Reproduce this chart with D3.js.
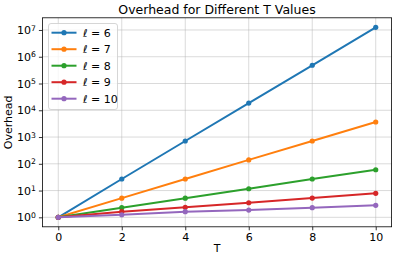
<!DOCTYPE html>
<html><head><meta charset="utf-8">
<script src="https://cdn.jsdelivr.net/npm/d3@7"></script>
<style>body{margin:0;background:#fff;} svg{display:block;font-family:"DejaVu Sans",sans-serif;}</style>
</head><body>
<svg id="c" width="396" height="260"></svg>
<script>
const T = [0, 2, 4, 6, 8, 10];
const seriesNames = ["6", "7", "8", "9", "10"];
const l6 = [1, 27, 710, 18600, 480000, 12600000];
const l7 = [1, 5.2, 27, 140, 710, 3650];
const l8 = [1, 2.3, 5.2, 11.7, 27, 60];
const l9 = [1, 1.62, 2.36, 3.5, 5.25, 7.9];
const l10 = [1, 1.25, 1.62, 1.87, 2.29, 2.8];
const xTicks = [0, 2, 4, 6, 8, 10];
const yTickExps = [0, 1, 2, 3, 4, 5, 6, 7];
const colors = ["#1f77b4", "#ff7f0e", "#2ca02c", "#d62728", "#9467bd"];
const allSeries = [l6, l7, l8, l9, l10];

const svg = d3.select("#c");
const L = 42.4, R = 391.6, Tp = 17.8, B = 226.8;
const x = d3.scaleLinear().domain([-0.5, 10.5]).range([L, R]);
const y = d3.scaleLog().domain([Math.pow(10, -0.354), Math.pow(10, 7.455)]).range([B, Tp]);

// grid
const g = svg.append("g");
g.selectAll(".gx").data(xTicks).enter().append("line")
  .attr("x1", d => x(d)).attr("x2", d => x(d)).attr("y1", Tp).attr("y2", B)
  .attr("stroke", "#b0b0b0").attr("stroke-opacity", 0.6).attr("stroke-width", 0.8);
g.selectAll(".gy").data(yTickExps).enter().append("line")
  .attr("y1", d => y(Math.pow(10, d))).attr("y2", d => y(Math.pow(10, d))).attr("x1", L).attr("x2", R)
  .attr("stroke", "#b0b0b0").attr("stroke-opacity", 0.6).attr("stroke-width", 0.8);

// axes
const xAxis = d3.axisBottom(x).tickValues(xTicks).tickSize(3.5).tickPadding(3).tickFormat(d3.format("d"));
const ax = svg.append("g").attr("transform", `translate(0,${B})`).call(xAxis);
ax.select(".domain").remove();
ax.selectAll("text").attr("font-size", 11).attr("fill", "#000").attr("font-family", "DejaVu Sans");
ax.selectAll("line").attr("stroke", "#000").attr("stroke-width", 0.8);

const yAxis = d3.axisLeft(y).tickValues(yTickExps.map(e => Math.pow(10, e))).tickSize(3.5).tickPadding(3).tickFormat("");
const ay = svg.append("g").attr("transform", `translate(${L},0)`).call(yAxis);
ay.select(".domain").remove();
ay.selectAll("line").attr("stroke", "#000").attr("stroke-width", 0.8);
ay.selectAll(".tick").each(function(d) {
  const t = d3.select(this).append("text").attr("x", -6.5).attr("dy", "0.32em")
    .attr("text-anchor", "end").attr("font-size", 11).attr("fill", "#000").attr("font-family", "DejaVu Sans");
  t.append("tspan").text("10");
  t.append("tspan").attr("dy", "-0.45em").attr("font-size", 7.7).text(Math.round(Math.log10(d)));
});

// spines
svg.append("rect").attr("x", L).attr("y", Tp).attr("width", R - L).attr("height", B - Tp)
  .attr("fill", "none").attr("stroke", "#000").attr("stroke-width", 0.8);

// lines
const line = d3.line().x((d, i) => x(T[i])).y(d => y(d));
allSeries.forEach((s, k) => {
  svg.append("path").datum(s).attr("d", line).attr("fill", "none")
    .attr("stroke", colors[k]).attr("stroke-width", 2);
  svg.selectAll(null).data(s).enter().append("circle")
    .attr("cx", (d, i) => x(T[i])).attr("cy", d => y(d)).attr("r", 2.6).attr("fill", colors[k]);
});

// title & labels
svg.append("text").attr("x", (L + R) / 2).attr("y", 13.5).attr("text-anchor", "middle")
  .attr("font-size", 12.5).attr("fill", "#000").text("Overhead for Different T Values");
svg.append("text").attr("x", (L + R) / 2).attr("y", 252).attr("text-anchor", "middle")
  .attr("font-size", 11).attr("fill", "#000").text("T");
svg.append("text").attr("transform", `translate(12,${(Tp + B) / 2}) rotate(-90)`).attr("text-anchor", "middle")
  .attr("font-size", 11).attr("fill", "#000").text("Overhead");

// legend
const lg = svg.append("g");
lg.append("rect").attr("x", 48.5).attr("y", 23.5).attr("width", 69).attr("height", 86).attr("rx", 2.5)
  .attr("fill", "#fff").attr("fill-opacity", 0.8).attr("stroke", "#cccccc").attr("stroke-width", 0.8);
seriesNames.forEach((n, k) => {
  const yy = 32.7 + k * 16.5;
  lg.append("line").attr("x1", 51.5).attr("x2", 76.5).attr("y1", yy).attr("y2", yy)
    .attr("stroke", colors[k]).attr("stroke-width", 2);
  lg.append("circle").attr("cx", 64).attr("cy", yy).attr("r", 2.6).attr("fill", colors[k]);
  const t = lg.append("text").attr("x", 83).attr("y", yy).attr("dy", "0.36em")
    .attr("font-size", 11).attr("fill", "#000");
  t.append("tspan").attr("font-style", "italic").text("ℓ");
  t.append("tspan").text(" = " + n);
});
</script>
</body></html>
